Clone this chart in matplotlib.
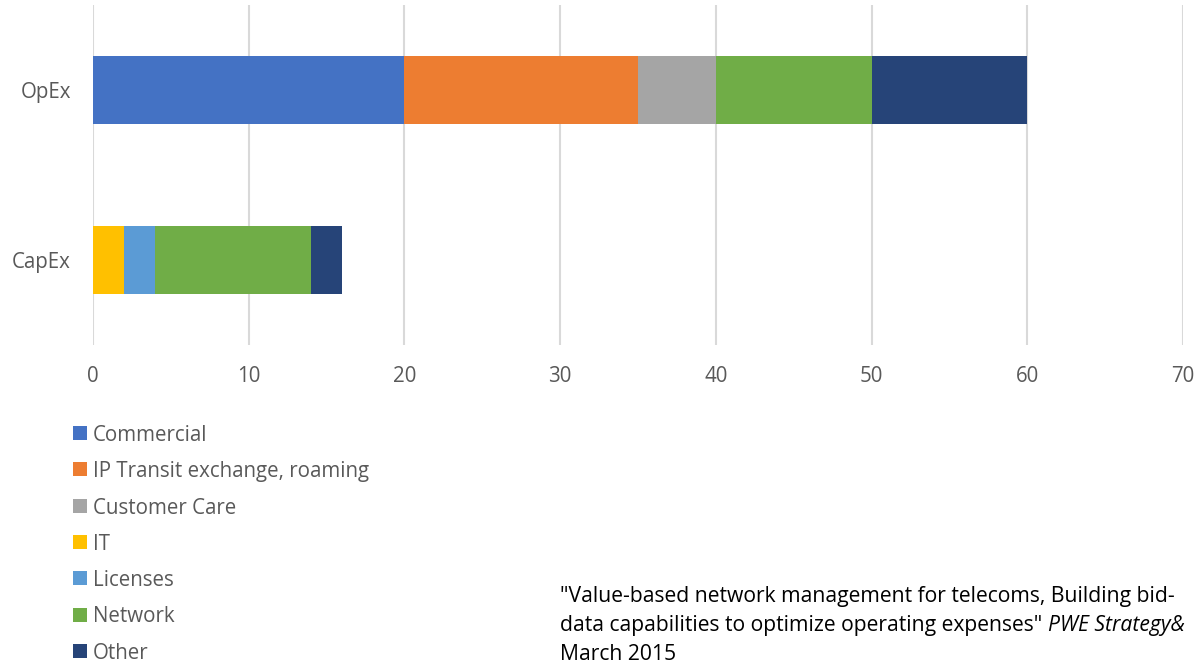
import matplotlib
matplotlib.use("Agg")
import matplotlib.pyplot as plt
from matplotlib.patches import Rectangle
import numpy as np

categories = ["CapEx", "OpEx"]
series_names = ["Commercial", "IP Transit exchange, roaming", "Customer Care",
                "IT", "Licenses", "Network", "Other"]
commercial = [0, 20]
ip_transit = [0, 15]
customer_care = [0, 5]
it = [2, 0]
licenses = [2, 0]
network = [10, 10]
other = [2, 10]
series_values = [commercial, ip_transit, customer_care, it, licenses, network, other]
colors = ["#4472C4", "#ED7D31", "#A5A5A5", "#FFC000", "#5B9BD5", "#70AD47", "#264478"]
x_ticks = [0, 10, 20, 30, 40, 50, 60, 70]

FONT = "Open Sans"
TXT = "#595959"
plt.rcParams["font.family"] = [FONT, "DejaVu Sans"]
FS = 14.8
FS_SRC = 15.2

W, H = 1198, 662
fig = plt.figure(figsize=(W/100, H/100), dpi=100)
ax = fig.add_axes([93/W, 1-345/H, (1183-93)/W, 340/H])

y = np.arange(len(categories))
left = np.zeros(len(categories))
for name, vals, c in zip(series_names, series_values, colors):
    vals = np.array(vals, dtype=float)
    ax.barh(y, vals, left=left, height=0.4, color=c, label=name, zorder=3)
    left += vals

ax.set_xlim(0, 70)
ax.set_ylim(-0.5, 1.5)
ax.set_xticks(x_ticks)
ax.set_yticks(y)
ax.set_yticklabels(categories)
ax.grid(axis="x", color="#D9D9D9", linewidth=1.5, zorder=0)
for s in ax.spines.values():
    s.set_visible(False)
ax.tick_params(axis="both", length=0, labelsize=FS, labelcolor=TXT)
ax.tick_params(axis="x", pad=15)
ax.tick_params(axis="y", pad=16)

# Legend (vertical list below the plot)
for i, (name, c) in enumerate(zip(series_names, colors)):
    yc = 433 + i * 36.3
    fig.patches.append(Rectangle((73/W, 1-(yc+7)/H), 14/W, 14/H,
                                 transform=fig.transFigure, facecolor=c,
                                 edgecolor="none"))
    fig.text(93/W, 1-yc/H, name, fontsize=FS, color=TXT, va="center_baseline")

# Source note
x0 = 560/W
fig.text(x0, 1-602/H, "\"Value-based network management for telecoms, Building bid-",
         fontsize=FS_SRC, color="black", va="baseline")
t2 = fig.text(x0, 1-631/H, "data capabilities to optimize operating expenses\" ",
              fontsize=FS_SRC, color="black", va="baseline")
fig.canvas.draw()
bb = t2.get_window_extent(renderer=fig.canvas.get_renderer())
fig.text(bb.x1/fig.bbox.width, 1-631/H, "PWE Strategy&", fontsize=FS_SRC,
         color="black", va="baseline", style="italic")
fig.text(x0, 1-660/H, "March 2015", fontsize=FS_SRC, color="black", va="baseline")

fig.savefig("out.png", dpi=100)
